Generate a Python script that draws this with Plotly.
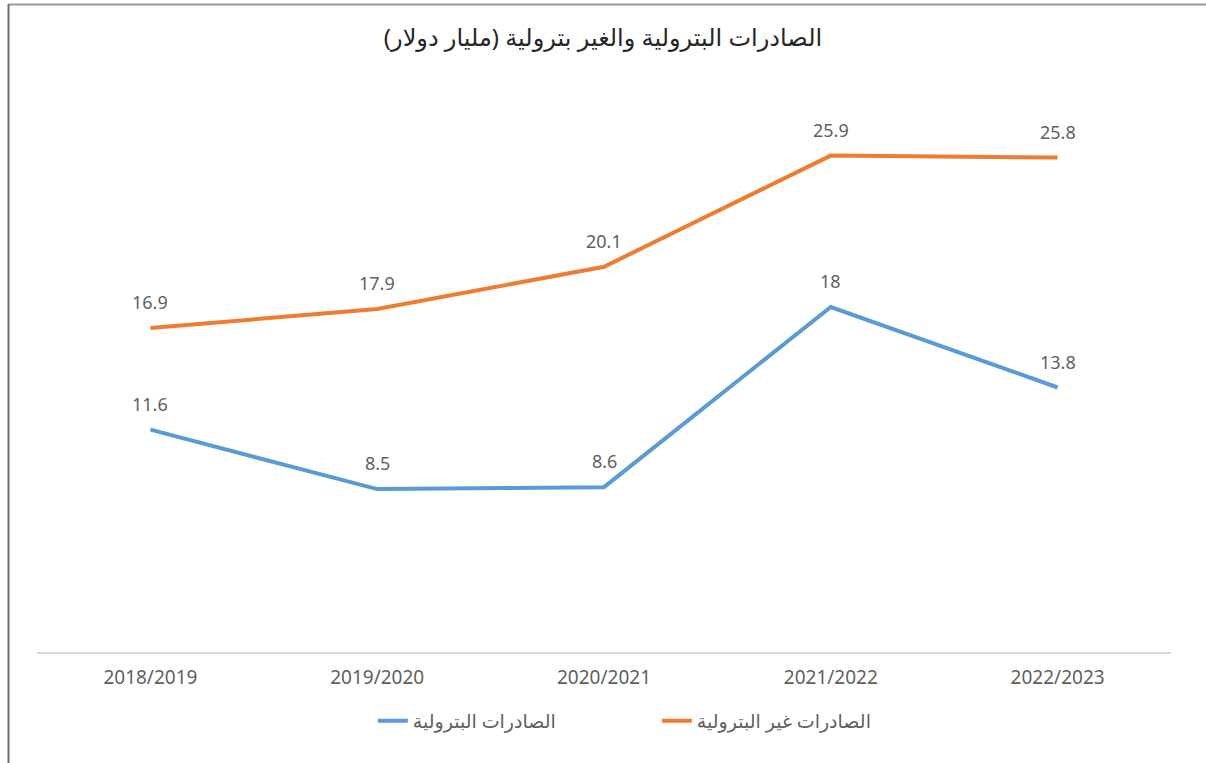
import plotly.graph_objects as go

categories = ["2018/2019", "2019/2020", "2020/2021", "2021/2022", "2022/2023"]
petroleum = [11.6, 8.5, 8.6, 18, 13.8]
non_petroleum = [16.9, 17.9, 20.1, 25.9, 25.8]
series_names = ["الصادرات البترولية", "الصادرات غير البترولية"]
title_text = "الصادرات البترولية والغير بترولية (مليار دولار)"

FONT = "Noto Sans, DejaVu Sans, sans-serif"
GRAY = "#5f5f5f"

fig = go.Figure()
fig.add_trace(go.Scatter(x=categories, y=petroleum, mode="lines", name=series_names[0],
                         line=dict(color="#5B9BD5", width=4)))
fig.add_trace(go.Scatter(x=categories, y=non_petroleum, mode="lines", name=series_names[1],
                         line=dict(color="#ED7D31", width=4)))

annotations = []
for series in (petroleum, non_petroleum):
    for c, v in zip(categories, series):
        annotations.append(dict(x=c, y=v, text=f"{v:g}", showarrow=False, yshift=26,
                                font=dict(family=FONT, size=18, color=GRAY)))

fig.update_layout(
    width=1206, height=763,
    margin=dict(l=36.5, r=34.5, t=77, b=111.3, autoexpand=False),
    paper_bgcolor="white", plot_bgcolor="white",
    title=dict(text=title_text, x=0.5, xanchor="center", y=1 - 38 / 763, yanchor="middle",
               yref="container", font=dict(family=FONT, size=24, color="#262626")),
    xaxis=dict(type="category", range=[-0.5, 4.5], showgrid=False, showline=True,
               linecolor="#D9D9D9", linewidth=1.5, automargin=False,
               ticks="", tickfont=dict(family=FONT, size=19, color=GRAY), ticklabelstandoff=7,
               zeroline=False, fixedrange=True),
    yaxis=dict(range=[0, 30], visible=False, showgrid=False, zeroline=False, automargin=False),
    showlegend=True,
    legend=dict(orientation="h", x=0.5466, xanchor="center", y=1 - 721 / 763, yref="container",
                yanchor="middle", font=dict(family=FONT, size=19, color=GRAY),
                entrywidth=239),
    annotations=annotations,
    shapes=[
        dict(type="line", xref="paper", yref="paper", x0=(8 - 36.5) / 1135, x1=(1210 - 36.5) / 1135,
             y0=(651.7 - 4.5) / 574.7, y1=(651.7 - 4.5) / 574.7, line=dict(color="#999999", width=2)),
        dict(type="line", xref="paper", yref="paper", x0=(8 - 36.5) / 1135, x1=(8 - 36.5) / 1135,
             y0=(651.7 - 4) / 574.7, y1=(651.7 - 770) / 574.7, line=dict(color="#6E6E6E", width=2)),
    ],
)

fig.write_html("out.html", config={"displayModeBar": False},
               post_script="document.body.style.margin='0';")
